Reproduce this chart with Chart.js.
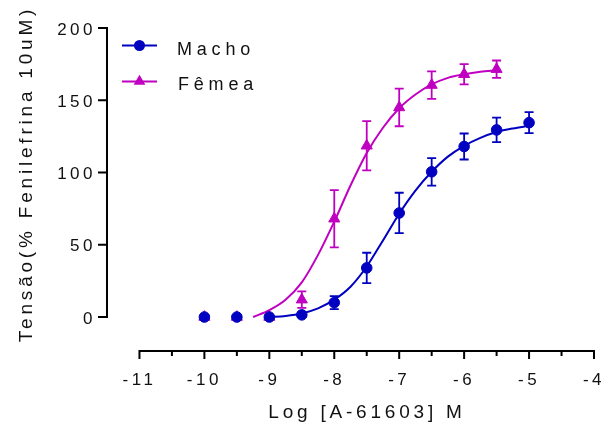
<!DOCTYPE html>
<html>
<head>
<meta charset="utf-8">
<script src="https://cdn.jsdelivr.net/npm/chart.js@4.4.0/dist/chart.umd.min.js"></script>
<style>
  html, body { margin: 0; padding: 0; background: #fff; }
  #wrap { width: 604px; height: 426px; }
</style>
</head>
<body>
<div id="wrap"><canvas id="grafico" width="604" height="426"></canvas></div>
<script>
// pontos medios +/- EPM
const xMacho = [-10, -9.5, -9, -8.5, -8, -7.5, -7, -6.5, -6, -5.5, -5];
const machoMedia = [0, 0, 0, 1.5, 10, 34, 72, 100.5, 118, 129.5, 134.5];
const machoEpm = [0, 0, 0, 1.5, 4.5, 10.5, 14, 9.5, 9, 8.5, 7.3];

const xFemea = [-10, -9.5, -9, -8.5, -8, -7.5, -7, -6.5, -6, -5.5];
const femeaMedia = [0, 0, 0, 12, 68, 118.5, 145, 160.5, 168, 171.5];
const femeaEpm = [0, 0, 0, 5.7, 19.8, 17, 13, 9.5, 7, 6];

// curvas ajustadas
const machoCurvaX = [-9, -8.75, -8.5, -8.25, -8, -7.75, -7.5, -7.25, -7, -6.75, -6.5, -6.25, -6, -5.75, -5.5, -5.25, -5];
const machoCurvaY = [0, 0.8, 2.5, 6, 12, 21, 35, 53, 71.5, 87.5, 100.5, 111, 118.5, 124, 128, 130.5, 132.3];
const femeaCurvaX = [-9.25, -9, -8.75, -8.5, -8.25, -8, -7.75, -7.5, -7.25, -7, -6.75, -6.5, -6.25, -6, -5.75, -5.5];
const femeaCurvaY = [0, 4.8, 12, 24, 43, 66, 91, 113.5, 131, 144.5, 154, 161, 165.5, 168, 169.7, 170.7];

const xTicks = [-11, -10, -9, -8, -7, -6, -5, -4];
const xTicksMenores = [-10.5, -9.5, -8.5, -7.5, -6.5, -5.5, -4.5];
const yTicks = [0, 50, 100, 150, 200];

const corMacho = '#0000C0';
const corFemea = '#C000C0';
const corTexto = '#111111';
const fonte = '"Liberation Sans", Arial, sans-serif';

const pontos = (xs, ys) => xs.map((x, i) => ({ x: x, y: ys[i] }));

const pluginAssi = {
    id: 'assi',
    beforeDraw(chart) {
        chart.ctx.letterSpacing = '3.5px';
    },
    afterDatasetDraw(chart, args) {
        const ds = chart.data.datasets[args.index];
        if (!ds.epm) return;
        const ctx = chart.ctx;
        const sx = chart.scales.x, sy = chart.scales.y;
        ctx.save();
        ctx.strokeStyle = ds.borderColor;
        ctx.lineWidth = 1.8;
        ds.data.forEach((p, i) => {
            const e = ds.epm[i];
            if (!e) return;
            const px = sx.getPixelForValue(p.x);
            const top = sy.getPixelForValue(p.y + e);
            const bot = sy.getPixelForValue(p.y - e);
            ctx.beginPath();
            ctx.moveTo(px, top); ctx.lineTo(px, bot);
            ctx.moveTo(px - 4.5, top); ctx.lineTo(px + 4.5, top);
            ctx.moveTo(px - 4.5, bot); ctx.lineTo(px + 4.5, bot);
            ctx.stroke();
        });
        ctx.restore();
    },
    afterDraw(chart) {
        const ctx = chart.ctx;
        const sx = chart.scales.x, sy = chart.scales.y;
        ctx.save();
        ctx.strokeStyle = '#000';
        ctx.lineWidth = 2;
        ctx.lineCap = 'square';

        // eixo Y
        const ax = 107;
        ctx.beginPath();
        ctx.moveTo(ax, sy.getPixelForValue(200));
        ctx.lineTo(ax, sy.getPixelForValue(0));
        yTicks.forEach(v => {
            const py = sy.getPixelForValue(v);
            ctx.moveTo(ax, py); ctx.lineTo(ax - 8, py);
        });
        ctx.stroke();

        // rotulos do eixo Y
        ctx.fillStyle = corTexto;
        ctx.font = '17px ' + fonte;
        ctx.letterSpacing = '3.5px';
        ctx.textAlign = 'right';
        ctx.textBaseline = 'middle';
        yTicks.forEach(v => {
            ctx.fillText(String(v), 96, sy.getPixelForValue(v) + 2);
        });

        // eixo X
        const ay = chart.chartArea.bottom;
        ctx.beginPath();
        ctx.moveTo(sx.getPixelForValue(-11), ay);
        ctx.lineTo(sx.getPixelForValue(-4), ay);
        xTicks.forEach(v => {
            const px = sx.getPixelForValue(v);
            ctx.moveTo(px, ay); ctx.lineTo(px, ay + 7);
        });
        xTicksMenores.forEach(v => {
            const px = sx.getPixelForValue(v);
            ctx.moveTo(px, ay); ctx.lineTo(px, ay + 4);
        });
        ctx.stroke();

        // titulos
        ctx.font = '19px ' + fonte;
        ctx.letterSpacing = '3.8px';
        ctx.textAlign = 'center';
        ctx.textBaseline = 'alphabetic';
        ctx.fillText('Log [A-61603] M', 367, 418);
        ctx.save();
        ctx.translate(32, 174);
        ctx.rotate(-Math.PI / 2);
        ctx.fillText('Tensão(% Fenilefrina 10uM)', 0, 0);
        ctx.restore();

        // legenda
        ctx.font = '18px ' + fonte;
        ctx.letterSpacing = '4.8px';
        ctx.textAlign = 'left';
        ctx.fillText('Macho', 177, 54.5);
        ctx.fillText('Fêmea', 178, 90);

        ctx.lineWidth = 2;
        ctx.lineCap = 'butt';
        ctx.strokeStyle = corMacho;
        ctx.fillStyle = corMacho;
        ctx.beginPath();
        ctx.moveTo(122, 45.5); ctx.lineTo(157, 45.5);
        ctx.stroke();
        ctx.beginPath();
        ctx.arc(139.5, 45.5, 5.5, 0, Math.PI * 2);
        ctx.fill();

        ctx.strokeStyle = corFemea;
        ctx.fillStyle = corFemea;
        ctx.beginPath();
        ctx.moveTo(122, 81.5); ctx.lineTo(157, 81.5);
        ctx.stroke();
        const r = 6.7, cx = 139.5, cy = 81.5;
        ctx.beginPath();
        ctx.moveTo(cx, cy - r);
        ctx.lineTo(cx + r * Math.sin(Math.PI / 3), cy + r / 2);
        ctx.lineTo(cx - r * Math.sin(Math.PI / 3), cy + r / 2);
        ctx.closePath();
        ctx.fill();
        ctx.restore();
    }
};

new Chart(document.getElementById('grafico'), {
    type: 'scatter',
    data: {
        datasets: [{
            label: 'Macho',
            data: pontos(xMacho, machoMedia),
            epm: machoEpm,
            borderColor: corMacho,
            backgroundColor: corMacho,
            pointStyle: 'circle',
            pointRadius: 5.3,
            borderWidth: 1,
            showLine: false,
            order: 1
        }, {
            label: 'Macho curva',
            data: pontos(machoCurvaX, machoCurvaY),
            borderColor: corMacho,
            borderWidth: 2,
            pointRadius: 0,
            showLine: true,
            cubicInterpolationMode: 'monotone',
            order: 2
        }, {
            label: 'Fêmea',
            data: pontos(xFemea, femeaMedia),
            epm: femeaEpm,
            borderColor: corFemea,
            backgroundColor: corFemea,
            pointStyle: 'triangle',
            pointRadius: 6.4,
            borderWidth: 1,
            showLine: false,
            order: 3
        }, {
            label: 'Fêmea curva',
            data: pontos(femeaCurvaX, femeaCurvaY),
            borderColor: corFemea,
            borderWidth: 2,
            pointRadius: 0,
            showLine: true,
            cubicInterpolationMode: 'monotone',
            order: 4
        }]
    },
    options: {
        responsive: false,
        animation: false,
        layout: { padding: { top: 28, right: 10, bottom: 0, left: 0 } },
        plugins: {
            legend: { display: false },
            tooltip: { enabled: false }
        },
        scales: {
            x: {
                type: 'linear',
                min: -11.5,
                max: -4,
                afterBuildTicks: s => { s.ticks = xTicks.map(v => ({ value: v })); },
                afterFit: s => { s.height = 75; s.paddingLeft = 0; s.paddingRight = 0; },
                grid: { display: false, drawTicks: false },
                border: { display: false },
                ticks: {
                    autoSkip: false,
                    maxRotation: 0,
                    padding: 19,
                    color: corTexto,
                    font: { family: fonte, size: 17 },
                    callback: v => String(v)
                }
            },
            y: {
                type: 'linear',
                min: -23.5,
                max: 200,
                afterBuildTicks: s => { s.ticks = yTicks.map(v => ({ value: v })); },
                afterFit: s => { s.width = 107; s.paddingTop = 0; s.paddingBottom = 0; },
                grid: { display: false, drawTicks: false },
                border: { display: false },
                ticks: { display: false }
            }
        }
    },
    plugins: [pluginAssi]
});
</script>
</body>
</html>
